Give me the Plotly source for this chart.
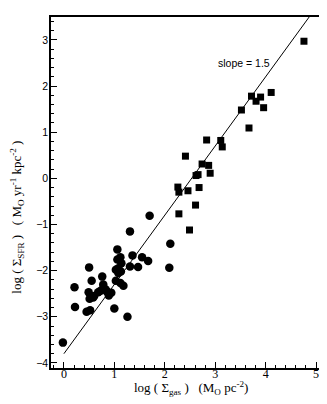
import plotly.graph_objects as go

# log Sigma_gas / log Sigma_SFR
circle_x = [1.70, 1.31, 2.11, 1.06, 1.12, 1.06, 1.14, 1.36, 1.55, 1.67,
            0.50, 2.09, 1.31, 1.47, 1.03, 1.08, 1.13, 0.55, 0.76, 1.03,
            1.12, 1.18, 0.21, 0.49, 0.51, 0.58, 0.68, 0.78, 0.78, 0.85,
            0.89, 0.94, 0.60, 0.22, 0.45, 0.52, 1.00, 1.26, -0.02, 0.83,
            0.72, 1.08]
circle_y = [-0.81, -1.15, -1.42, -1.54, -1.71, -1.76, -1.84, -1.67, -1.71, -1.79,
            -1.93, -1.94, -1.91, -1.92, -1.98, -2.05, -2.02, -2.22, -2.13, -2.22,
            -2.27, -2.33, -2.36, -2.47, -2.61, -2.58, -2.47, -2.38, -2.30, -2.45,
            -2.54, -2.48, -2.55, -2.79, -2.89, -2.86, -2.82, -3.00, -3.56, -2.41,
            -2.44, -1.95]

square_x = [4.76, 4.11, 3.72, 3.90, 3.81, 3.96, 3.52, 3.67, 2.83, 3.11,
            3.14, 2.41, 2.74, 2.87, 2.90, 2.62, 2.66, 2.26, 2.28, 2.46,
            2.68, 2.61, 2.28, 2.49]
square_y = [2.97, 1.86, 1.78, 1.76, 1.67, 1.53, 1.48, 1.09, 0.83, 0.82,
            0.68, 0.48, 0.31, 0.28, 0.11, 0.06, 0.08, -0.19, -0.30, -0.27,
            -0.20, -0.58, -0.77, -1.12]

# slope = 1.5 line end points
fit_x = [0.0, 4.87]
fit_y = [-3.8, 3.505]

x_ticks = [0, 1, 2, 3, 4, 5]
y_ticks = [-4, -3, -2, -1, 0, 1, 2, 3]

serif = "Liberation Serif, Times New Roman, serif"
sans = "Liberation Sans, Arial, sans-serif"

fig = go.Figure()

fig.add_trace(go.Scatter(
    x=fit_x, y=fit_y, mode="lines",
    line=dict(color="black", width=1),
    showlegend=False, hoverinfo="skip",
))
fig.add_trace(go.Scatter(
    x=circle_x, y=circle_y, mode="markers",
    marker=dict(symbol="circle", size=8.5, color="black"),
    showlegend=False,
))
fig.add_trace(go.Scatter(
    x=square_x, y=square_y, mode="markers",
    marker=dict(symbol="square", size=7, color="black"),
    showlegend=False,
))

fig.add_annotation(
    x=3.57, y=2.49, text="slope = 1.5", showarrow=False,
    font=dict(family=sans, size=10.5, color="black"),
)

# axis titles as annotations so they can sit where the original has them
fig.add_annotation(
    xref="paper", yref="paper", x=-0.125, y=0.43,
    xanchor="center", yanchor="middle",
    text="log ( Σ<sub>SFR</sub> )   ( M<sub>O</sub> yr<sup>-1</sup> kpc<sup>-2</sup> )",
    textangle=-90, showarrow=False,
    font=dict(family=serif, size=13, color="black"),
)
fig.add_annotation(
    xref="paper", yref="paper", x=0.51, y=-0.089,
    xanchor="center", yanchor="bottom",
    text="log ( Σ<sub>gas</sub> )   (M<sub>O</sub> pc<sup>-2</sup>)",
    showarrow=False,
    font=dict(family=serif, size=13, color="black"),
)

fig.update_layout(
    width=327, height=404,
    margin=dict(l=43, r=7, t=7, b=44),
    paper_bgcolor="white", plot_bgcolor="white",
    xaxis=dict(
        range=[-0.256, 5.197], tickvals=x_ticks,
        ticks="inside", ticklen=6, tickwidth=1, tickcolor="black",
        minor=dict(dtick=0.2, ticks="inside", ticklen=3, tickcolor="black"),
        showline=True, linecolor="black", linewidth=1.5, mirror=True,
        showgrid=False, zeroline=False, ticklabelstandoff=-6,
        tickfont=dict(family=serif, size=12, color="black"),
    ),
    yaxis=dict(
        range=[-4.11, 3.495], tickvals=y_ticks,
        ticks="inside", ticklen=6, tickwidth=1, tickcolor="black",
        minor=dict(dtick=0.2, ticks="inside", ticklen=3, tickcolor="black"),
        showline=True, linecolor="black", linewidth=1.5, mirror=True,
        showgrid=False, zeroline=False, ticklabelstandoff=-1,
        tickfont=dict(family=sans, size=10.5, color="black"),
    ),
)

fig.write_html("out.html")
